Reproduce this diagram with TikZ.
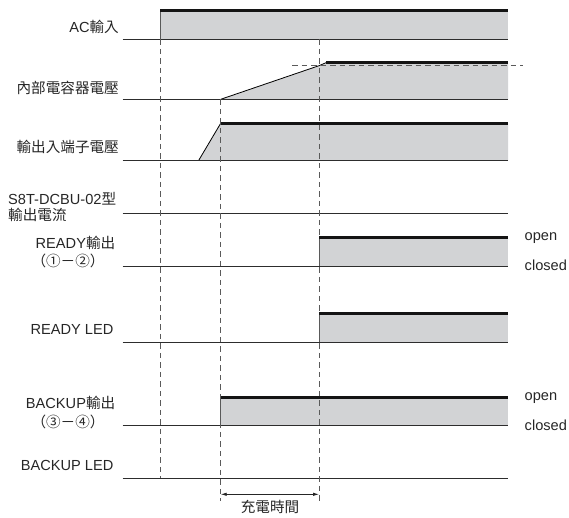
\documentclass[tikz,border=0pt]{standalone}
\usepackage{fontspec}
\setmainfont{Liberation Sans}
\newfontfamily\cjk{Noto Sans CJK TC}
\usetikzlibrary{arrows.meta}
\definecolor{sigfill}{RGB}{210,211,213}
\definecolor{basecol}{RGB}{45,45,45}
\definecolor{guidecol}{RGB}{90,90,90}
\begin{document}
\begin{tikzpicture}[x=1pt,y=-1pt,
  base/.style={line width=1.1pt, draw=basecol},
  high/.style={line width=2.8pt, draw=black!92},
  edge/.style={line width=0.8pt, draw=black!65},
  ramp/.style={line width=0.8pt, draw=black},
  sig/.style={fill=sigfill},
  guide/.style={dash pattern=on 5.5pt off 4pt, line width=0.9pt, draw=guidecol},
  lbl/.style={font=\fontsize{14.6}{17}\selectfont, inner sep=0pt, text=black!85},
  dim/.style={line width=0.8pt, draw=black!85, {Latex[length=6pt,width=3.5pt]}-{Latex[length=6pt,width=3.5pt]}},
  tick/.style={line width=0.8pt, draw=black!85}
]
\useasboundingbox (0,0) rectangle (569,518);

% ---- AC input ----
\fill[sig] (160,12) rectangle (508,39.3);
\draw[edge] (160,10.5) -- (160,39.3);
\draw[high] (160,10.5) -- (508,10.5);
\draw[base] (122.7,39.3) -- (508,39.3);

% ---- internal capacitor voltage ----
\fill[sig] (220.7,99.3) -- (319,65.7) -- (326,62.7) -- (508,62.7) -- (508,99.3) -- cycle;
\draw[ramp] (220.7,99.3) -- (319,65.7) -- (326,62.7);
\draw[high] (326,62.7) -- (508,62.7);
\draw[base] (122.7,99.3) -- (508,99.3);

% ---- terminal voltage ----
\fill[sig] (198.5,160.7) -- (220.7,123.3) -- (508,123.3) -- (508,160.7) -- cycle;
\draw[ramp] (198.5,160.7) -- (220.7,123.3);
\draw[high] (220.7,123.3) -- (508,123.3);
\draw[base] (122.7,160.7) -- (508,160.7);

% ---- S8T output current ----
\draw[base] (122.7,213.3) -- (508,213.3);

% ---- READY output ----
\fill[sig] (319,238.5) rectangle (508,266.7);
\draw[edge] (319,237.3) -- (319,266.7);
\draw[high] (319,237.3) -- (508,237.3);
\draw[base] (122.7,266.7) -- (508,266.7);

% ---- READY LED ----
\fill[sig] (319,314.5) rectangle (508,342.7);
\draw[edge] (319,313.3) -- (319,342.7);
\draw[high] (319,313.3) -- (508,313.3);
\draw[base] (122.7,342.7) -- (508,342.7);

% ---- BACKUP output ----
\fill[sig] (220.7,398.5) rectangle (508,425.7);
\draw[edge] (220.7,397.3) -- (220.7,425.7);
\draw[high] (220.7,397.3) -- (508,397.3);
\draw[base] (122.7,425.7) -- (508,425.7);

% ---- BACKUP LED ----
\draw[base] (122.7,478.3) -- (508,478.3);

% ---- guide lines ----
\draw[guide] (160,39.3) -- (160,478.3);
\draw[guide] (220.7,99.3) -- (220.7,500.7);
\draw[guide] (319,39.3) -- (319,500.7);
\draw[guide] (292,65.7) -- (522.7,65.7);

% ---- charge time dimension ----
\coordinate (ta) at (220.7,494.3);
\coordinate (tb) at (319,494.3);
\draw[dim] (ta) -- (tb);
\node[lbl, font=\cjk\fontsize{14.6}{17}\selectfont] (tchg) at (270,507) {充電時間};

% ---- labels ----
\node[lbl, anchor=east] (lac) at (119,26.7) {AC{\cjk 輸入}};
\node[lbl, anchor=east] (lcap) at (119,88.3) {\cjk 內部電容器電壓};
\node[lbl, anchor=east] (lterm) at (119,146.7) {\cjk 輸出入端子電壓};
\node[lbl, anchor=west] (ls8t) at (8,199) {S8T-DCBU-02{\cjk 型}};
\node[lbl, anchor=west] (lcur) at (8,215) {\cjk 輸出電流};
\node[lbl, anchor=east] (lrdy) at (115.4,243.3) {READY{\cjk 輸出}};
\node[lbl] (lrdyp) at (68,261) {\cjk （①－②）};
\node[lbl, anchor=east] (lrled) at (113.6,329) {READY LED};
\node[lbl, anchor=east] (lbk) at (115.4,403.3) {BACKUP{\cjk 輸出}};
\node[lbl] (lbkp) at (68,421.7) {\cjk （③－④）};
\node[lbl, anchor=east] (lbled) at (113.6,465) {BACKUP LED};

\node[lbl, anchor=west] (o1) at (524.5,238.3) {open};
\node[lbl, anchor=west] (c1) at (524.5,265) {closed};
\node[lbl, anchor=west] (o2) at (524.5,398.3) {open};
\node[lbl, anchor=west] (c2) at (524.5,425) {closed};
\end{tikzpicture}
\end{document}
